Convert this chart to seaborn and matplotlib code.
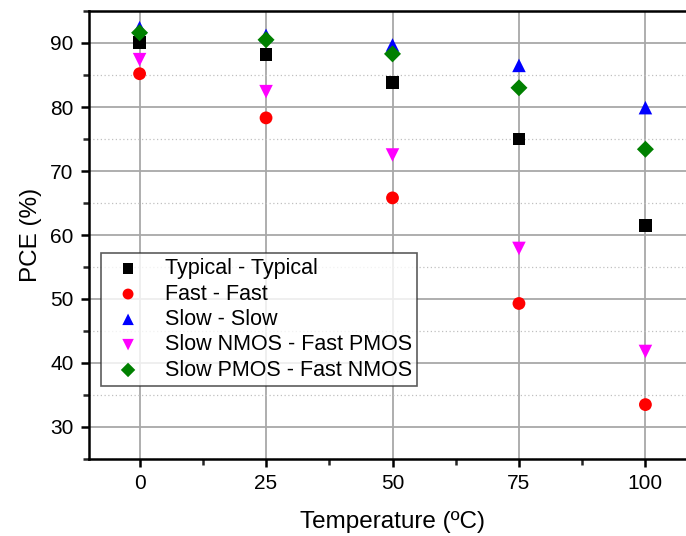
import matplotlib
matplotlib.use("Agg")
import matplotlib.pyplot as plt
import seaborn as sns
import pandas as pd
from matplotlib.ticker import MultipleLocator

temps = [0, 25, 50, 75, 100]
typical = [90.1, 88.2, 83.8, 75.0, 61.5]
fast = [85.2, 78.3, 65.8, 49.3, 33.5]
slow = [92.4, 91.2, 89.7, 86.5, 79.9]
snfp = [87.4, 82.4, 72.5, 57.9, 41.8]
spfn = [91.6, 90.5, 88.3, 83.0, 73.4]

labels = ["Typical - Typical", "Fast - Fast", "Slow - Slow",
          "Slow NMOS - Fast PMOS", "Slow PMOS - Fast NMOS"]
series = [typical, fast, slow, snfp, spfn]
colors = ["black", "red", "blue", "magenta", "green"]
markers = ["s", "o", "^", "v", "D"]
sizes = [80, 85, 95, 95, 75]

rows = []
for lab, vals in zip(labels, series):
    for t, v in zip(temps, vals):
        rows.append({"Temperature": t, "PCE": v, "Corner": lab})
df = pd.DataFrame(rows)

sns.set_style("white")
plt.rcParams["font.family"] = ["Liberation Sans", "DejaVu Sans"]
plt.rcParams["text.color"] = "black"
plt.rcParams["axes.labelcolor"] = "black"

fig = plt.figure(figsize=(6.86, 5.36), dpi=100)
W, H = 686, 536
ax = fig.add_axes([89 / W, (H - 459) / H, (696 - 89) / W, (459 - 11) / H])

for lab, col, mk, sz in zip(labels, colors, markers, sizes):
    sub = df[df["Corner"] == lab]
    sns.scatterplot(data=sub, x="Temperature", y="PCE", color=col, marker=mk,
                    s=sz, edgecolor="none", label=lab, ax=ax, zorder=3)

ax.set_xlim(-10, 110)
ax.set_ylim(25, 95)
ax.xaxis.set_minor_locator(MultipleLocator(12.5))
ax.yaxis.set_minor_locator(MultipleLocator(5))
ax.set_yticks([30, 40, 50, 60, 70, 80, 90])
ax.set_xticks(temps)

ax.grid(True, which="major", color="#a8a8a8", linewidth=1.3, zorder=0)
ax.grid(True, which="minor", axis="y", color="#c0c0c0", linestyle=(0, (1, 2)), linewidth=0.9, zorder=0)
ax.set_axisbelow(True)

for s in ["left", "bottom", "top", "right"]:
    ax.spines[s].set_color("black")
    ax.spines[s].set_linewidth(1.8)

ax.tick_params(axis="both", which="major", direction="out", length=6, width=1.8,
               labelsize=15, colors="black", left=True, bottom=True, pad=5)
ax.tick_params(axis="both", which="minor", direction="out", length=4, width=1.8,
               left=True, bottom=True)

ax.set_xlabel("Temperature (ºC)", fontsize=17.5, labelpad=13)
ax.set_ylabel("PCE (%)", fontsize=17.5, labelpad=6)

leg = ax.legend(loc="lower left", bbox_to_anchor=(0.02, 0.163), fontsize=15.5,
                frameon=True, fancybox=False, edgecolor="#333333",
                handletextpad=0.7, labelspacing=0.2, borderpad=0.25, handlelength=2.0,
                borderaxespad=0, markerscale=0.85)
leg.get_frame().set_linewidth(1.2)
for t in leg.get_texts():
    t.set_color("black")

fig.savefig("out.png", dpi=100)
